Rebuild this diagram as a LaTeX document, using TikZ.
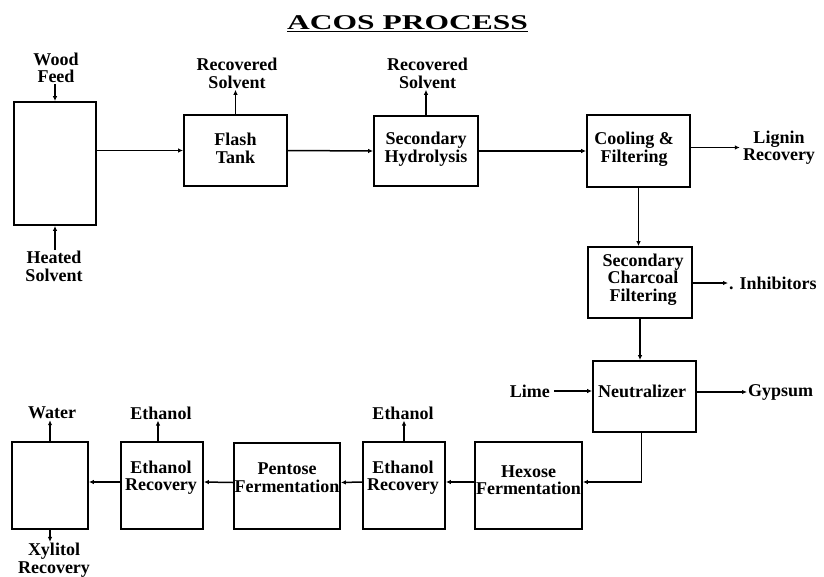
\documentclass[tikz,border=0pt]{standalone}
\usepackage{fontspec}
\setmainfont{Liberation Serif}
\usetikzlibrary{arrows.meta}
\newcommand\lblfont{\fontsize{18}{17.5}\selectfont\bfseries}
\begin{document}
\begin{tikzpicture}[x=1pt,y=-1pt,
  box/.style={draw, line width=1.8pt, inner sep=0pt},
  txt/.style={inner sep=1pt, align=center, font=\lblfont},
  arr/.style={line width=1.5pt, -{Latex[length=5pt,width=4.5pt]}},
  uparr/.style={line width=1.9pt, -{Latex[length=5pt,width=4.5pt]}},
  low/.style={yshift=3.5pt}
]
\fill[white] (0,0) rectangle (824,576);
\useasboundingbox (0,0) rectangle (824,576);

% title
\node[inner sep=0pt, font=\fontsize{21}{24}\selectfont\bfseries] (title) at (407.5,24)
  {\scalebox{1.5}[1]{\underline{ACOS PROCESS}}};

% boxes
\node[box, minimum width=82pt, minimum height=123pt] (reactor) at (55,163.5) {};
\node[box, minimum width=103pt, minimum height=71pt] (flash) at (235.5,150.5) {};
\node[box, minimum width=104pt, minimum height=70pt] (sechyd) at (426,151) {};
\node[box, minimum width=103pt, minimum height=72pt] (cool) at (638.5,151) {};
\node[box, minimum width=104pt, minimum height=71pt] (charcoal) at (640,282.5) {};
\node[box, minimum width=103pt, minimum height=71pt] (neut) at (644.5,396.5) {};
\node[box, minimum width=107pt, minimum height=87pt] (hexose) at (528.5,485.5) {};
\node[box, minimum width=82pt, minimum height=87pt] (eth1) at (404,485.5) {};
\node[box, minimum width=106pt, minimum height=86pt] (pentose) at (287,486) {};
\node[box, minimum width=82pt, minimum height=87pt] (eth2) at (162,485.5) {};
\node[box, minimum width=76pt, minimum height=87pt] (xbox) at (50,485.5) {};

% box texts
\node[txt] (tflash) at (235.5,148.5) {Flash\\Tank};
\node[txt] (tsechyd) at (426,149) {Secondary\\Hydrolysis};
\node[txt] (tcool) at (634,149) {Cooling \&\\Filtering};
\node[txt] (tcharcoal) at (643,279.5) {Secondary\\Charcoal\\Filtering};
\node[txt] (tneut) at (642,391) {Neutralizer};
\node[txt] (thexose) at (528.5,480) {Hexose\\Fermentation};
\node[txt] (teth1) at (403,477.5) {Ethanol\\Recovery};
\node[txt] (tpentose) at (287,477.5) {Pentose\\Fermentation};
\node[txt] (teth2) at (161,477.5) {Ethanol\\Recovery};

% outside labels
\node[txt] (wood) at (56,68) {Wood\\Feed};
\node[txt] (heated) at (54,266.5) {Heated\\Solvent};
\node[txt] (rs1) at (237,73.5) {Recovered\\Solvent};
\node[txt] (rs2) at (427.5,73.5) {Recovered\\Solvent};
\node[txt] (lignin) at (779,147.5) {Lignin\\Recovery};
\node[txt, anchor=west] (inh) at (728,283) {. Inhibitors};
\node[txt, anchor=east] (lime) at (551,391) {Lime};
\node[txt, anchor=west] (gyp) at (747,392) {Gypsum};
\node[txt] (e1lab) at (403,413) {Ethanol};
\node[txt] (e2lab) at (161,413) {Ethanol};
\node[txt] (water) at (52,413) {Water};
\node[txt] (xyl) at (54,560) {Xylitol\\Recovery};

% connectors
\draw[arr] (reactor.north |- wood.south) -- (reactor.north);
\draw[uparr] (reactor.south |- heated.north) -- (reactor.south);
\draw[arr] (reactor.east |- flash.west) -- (flash.west);
\draw[uparr] (flash.north) -- (flash.north |- rs1.south);
\draw[arr] (flash.east) -- (sechyd.west);
\draw[uparr] (sechyd.north) -- (sechyd.north |- rs2.south);
\draw[arr] (sechyd.east) -- (cool.west);
\draw[arr] (cool.east |- lignin.west) -- ([xshift=-2pt]lignin.west);
\draw[arr] (cool.south) -- (cool.south |- charcoal.north);
\draw[arr] (charcoal.east |- inh.west) -- (inh.west);
\draw[arr] (charcoal.south) -- (charcoal.south |- neut.north);
\draw[arr] ([xshift=3pt]lime.east) -- (lime.east -| neut.west);
\draw[arr] (neut.east |- gyp.west) -- (gyp.west);
\draw[arr] ([xshift=-3pt]neut.south) |- ([low]hexose.east);
\draw[arr] ([low]hexose.west) -- ([low]eth1.east);
\draw[uparr] (eth1.north) -- (eth1.north |- e1lab.south);
\draw[arr] ([low]eth1.west) -- ([low]pentose.east);
\draw[arr] ([low]pentose.west) -- ([low]eth2.east);
\draw[uparr] ([xshift=-4pt]eth2.north) -- ([xshift=-4pt]eth2.north |- e2lab.south);
\draw[arr] ([low]eth2.west) -- ([low]xbox.east);
\draw[uparr] (xbox.north) -- (xbox.north |- water.south);
\draw[arr] (xbox.south) -- (xbox.south |- xyl.north);
\end{tikzpicture}
\end{document}
